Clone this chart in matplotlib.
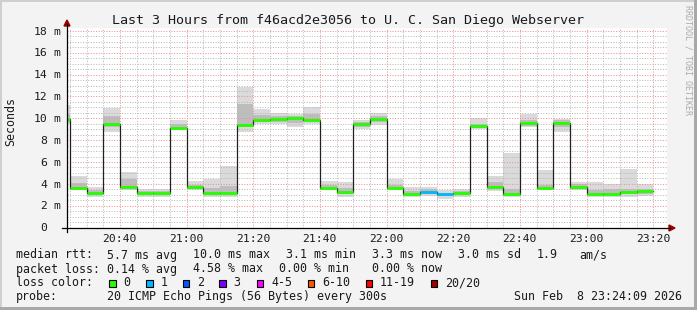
import numpy as np
import matplotlib
matplotlib.use("Agg")
import matplotlib.pyplot as plt
from matplotlib.lines import Line2D
from matplotlib.patches import Polygon, Rectangle
from matplotlib import transforms

# 5-minute steps (start of each step), values in milliseconds
seg_start = ["20:20", "20:25", "20:30", "20:35", "20:40", "20:45", "20:50", "20:55",
             "21:00", "21:05", "21:10", "21:15", "21:20", "21:25", "21:30", "21:35",
             "21:40", "21:45", "21:50", "21:55", "22:00", "22:05", "22:10", "22:15",
             "22:20", "22:25", "22:30", "22:35", "22:40", "22:45", "22:50", "22:55",
             "23:00", "23:05", "23:10", "23:15"]
rtt_median = [9.90, 3.62, 3.19, 9.48, 3.74, 3.19, 3.19, 9.14,
              3.68, 3.19, 3.19, 9.42, 9.84, 9.93, 10.00, 9.87,
              3.65, 3.28, 9.48, 9.97, 3.65, 3.07, 3.25, 3.07,
              3.19, 9.29, 3.74, 3.07, 9.54, 3.65, 9.54, 3.74,
              3.10, 3.10, 3.22, 3.30]
smoke_lo = [9.50, 3.40, 2.76, 8.77, 3.43, 2.76, 2.80, 8.93,
            3.43, 2.76, 2.76, 8.77, 9.45, 9.45, 9.23, 9.45,
            3.43, 2.76, 9.02, 9.39, 3.50, 2.82, 2.88, 2.64,
            2.76, 9.05, 3.37, 2.82, 9.17, 3.43, 8.77, 3.43,
            2.76, 2.76, 2.82, 2.88]
smoke_hi = [11.20, 4.72, 3.68, 10.97, 5.11, 3.50, 3.50, 9.84,
            4.29, 4.47, 5.63, 12.90, 10.85, 10.45, 10.36, 11.06,
            4.29, 4.20, 9.84, 10.45, 4.41, 3.74, 3.74, 3.43,
            3.56, 10.00, 4.72, 6.85, 10.36, 5.27, 9.97, 4.17,
            4.20, 3.98, 5.36, 3.95]
inner_lo = [9.70, 3.50, 3.00, 9.20, 3.60, 3.00, 3.00, 9.00,
            3.55, 3.00, 3.05, 9.20, 9.65, 9.70, 9.60, 9.70,
            3.55, 3.05, 9.20, 9.70, 3.60, 2.95, 3.10, 2.85,
            3.00, 9.15, 3.55, 2.95, 9.30, 3.55, 9.20, 3.55,
            2.95, 2.95, 3.05, 3.10]
inner_hi = [10.40, 4.10, 3.40, 10.20, 4.40, 3.35, 3.35, 9.50,
            3.90, 3.60, 3.80, 11.30, 10.30, 10.20, 10.20, 10.40,
            3.90, 3.60, 9.65, 10.25, 3.90, 3.30, 3.50, 3.20,
            3.35, 9.50, 4.20, 3.50, 9.85, 3.90, 9.80, 3.95,
            3.40, 3.50, 3.50, 3.50]
loss = [0, 0, 0, 0, 0, 0, 0, 0, 0, 0, 0, 0, 0, 0, 0, 0, 0, 0,
        0, 0, 0, 0, 1, 1, 0, 0, 0, 0, 0, 0, 0, 0, 0, 0, 0, 0]

x_ticks = ["20:40", "21:00", "21:20", "21:40", "22:00", "22:20", "22:40", "23:00", "23:20"]
y_ticks = [0, 2, 4, 6, 8, 10, 12, 14, 16, 18]

loss_labels = ["0", "1", "2", "3", "4-5", "6-10", "11-19", "20/20"]
loss_colors = ["#26ff00", "#00b8ff", "#0059ff", "#7e00ff", "#ff00ff", "#ff5500", "#ff0000", "#a10000"]

title = "Last 3 Hours from f46acd2e3056 to U. C. San Diego Webserver"
rtt_row = ["median rtt:", "5.7 ms avg", "10.0 ms max", "3.1 ms min", "3.3 ms now",
           "3.0 ms sd", "1.9", "am/s"]
loss_row = ["packet loss:", "0.14 % avg", "4.58 % max", "0.00 % min", "0.00 % now"]
probe_text = "20 ICMP Echo Pings (56 Bytes) every 300s"
stamp = "Sun Feb  8 23:24:09 2026"


def to_min(s):
    h, m = s.split(":")
    return (int(h) - 20) * 60 + int(m)


W, H = 697, 310
MONO = "DejaVu Sans Mono"
INK = "#1a1a1a"


def fx(x):
    return x / W


def fy(y):
    return 1 - y / H


fig = plt.figure(figsize=(W / 100, H / 100), dpi=100, facecolor="#f3f3f3")
ax = fig.add_axes([fx(67), fy(227.5), 600 / W, 199.5 / H])
ax.set_facecolor("white")
ax.set_xlim(24.15, 204.15)
ax.set_ylim(0, 18.27)
for sp in ax.spines.values():
    sp.set_visible(False)
ax.set_xticks([])
ax.set_yticks([])

starts = np.array([to_min(s) for s in seg_start], dtype=float)
med = np.array(rtt_median)
lo, hi = np.array(smoke_lo), np.array(smoke_hi)
ilo, ihi = np.array(inner_lo), np.array(inner_hi)

# smoke
ax.bar(starts, hi - lo, bottom=lo, width=5, align="edge", color="#dadada", lw=0, zorder=1)
ax.bar(starts, ihi - ilo, bottom=ilo, width=5, align="edge", color="#bdbdbd", lw=0, zorder=1.1)

# grid: small dots, over the smoke like rrdtool
dots = (0, (1, 1.6))
for v in np.arange(0.5, 18.3, 0.5):
    major = abs(v / 2 - round(v / 2)) < 1e-6
    ax.axhline(v, color="#ee9090" if major else "#b8b8b8", lw=0.72, ls=dots, zorder=2)
for t in np.arange(25, 205, 5):
    major = t % 20 == 0
    ax.axvline(t, color="#ee9090" if major else "#b8b8b8", lw=0.72, ls=dots, zorder=2)

# median: black step line, then coloured by loss
xs = np.append(starts, starts[-1] + 5)
ys = np.append(med, med[-1])
ax.step(xs, ys, where="post", color="#202020", lw=0.9, zorder=3)
ax.hlines(med, starts, starts + 5, colors=[loss_colors[k] for k in loss], lw=2.0, zorder=4)

# axes lines and arrows
fig.add_artist(Line2D([fx(62), fx(670)], [fy(228), fy(228)], color="black", lw=0.9))
fig.add_artist(Line2D([fx(67), fx(67)], [fy(232), fy(24)], color="black", lw=0.9))
fig.add_artist(Polygon([(fx(669), fy(225)), (fx(675), fy(228)), (fx(669), fy(231))],
                       closed=True, color="#990000"))
fig.add_artist(Polygon([(fx(64), fy(26)), (fx(67), fy(20)), (fx(70), fy(26))],
                       closed=True, color="#990000"))

# tick labels
tx = transforms.blended_transform_factory(ax.transData, fig.transFigure)
for lab in x_ticks:
    fig.text(to_min(lab), fy(242.5), lab, transform=tx, ha="center", va="baseline",
             family=MONO, fontsize=8.2, color=INK)
off = transforms.ScaledTranslation(0, -3.7 / 100, fig.dpi_scale_trans)
ty = transforms.blended_transform_factory(fig.transFigure, ax.transData) + off
for v in y_ticks:
    fig.text(fx(47.5), v, str(v), transform=ty, ha="right", va="baseline",
             family=MONO, fontsize=8.2, color=INK)
    if v:
        fig.text(fx(53), v, "m", transform=ty, ha="left", va="baseline",
                 family=MONO, fontsize=8.2, color=INK)

fig.text(fx(348.5), fy(24), title, ha="center", va="baseline", family=MONO,
         fontsize=9.6, color=INK)
fig.text(fx(10.5), fy(122), "Seconds", rotation=90, ha="center", va="center",
         family=MONO, fontsize=8.4, color=INK)
fig.text(fx(688), fy(5), "RRDTOOL / TOBI OETIKER", rotation=270, ha="center", va="top",
         family=MONO, fontsize=6.0, color="#ababab")

# legend block
rtt_x = [16, 107.3, 193.3, 286, 372.3, 458.3, 536.7, 579.3]
for s, x in zip(rtt_row, rtt_x):
    fig.text(fx(x), fy(258.5), s, ha="left", va="baseline", family=MONO, fontsize=8.4, color=INK)
loss_x = [16, 107.3, 193.3, 279, 372.3]
for s, x in zip(loss_row, loss_x):
    fig.text(fx(x), fy(272.5), s, ha="left", va="baseline", family=MONO, fontsize=8.4, color=INK)

fig.text(fx(16), fy(286.3), "loss color:", ha="left", va="baseline", family=MONO, fontsize=8.4, color=INK)
box_x = [109, 146, 182.5, 219, 256.5, 307.5, 365.5, 430.5]
for lab, col, x in zip(loss_labels, loss_colors, box_x):
    fig.add_artist(Rectangle((fx(x), fy(286.5)), 6.5 / W, 6.5 / H, facecolor=col,
                             edgecolor="black", lw=0.8))
    fig.text(fx(x + 14.5), fy(286.3), lab, ha="left", va="baseline", family=MONO,
             fontsize=8.4, color=INK)

fig.text(fx(16), fy(300), "probe:", ha="left", va="baseline", family=MONO, fontsize=8.4, color=INK)
fig.text(fx(107.3), fy(300), probe_text, ha="left", va="baseline", family=MONO, fontsize=8.4, color=INK)
fig.text(fx(682), fy(300), stamp, ha="right", va="baseline", family=MONO, fontsize=8.4, color=INK)

# image frame
fig.add_artist(Rectangle((0, 0), fx(2), 1, color="#cfcfcf", lw=0))
fig.add_artist(Rectangle((0, fy(2)), 1, 2 / H, color="#cfcfcf", lw=0))
fig.add_artist(Rectangle((fx(694), 0), 3 / W, 1, color="#a8a8a8", lw=0))
fig.add_artist(Rectangle((0, 0), 1, 3 / H, color="#a8a8a8", lw=0))

fig.savefig("out.png", dpi=100, facecolor=fig.get_facecolor())
